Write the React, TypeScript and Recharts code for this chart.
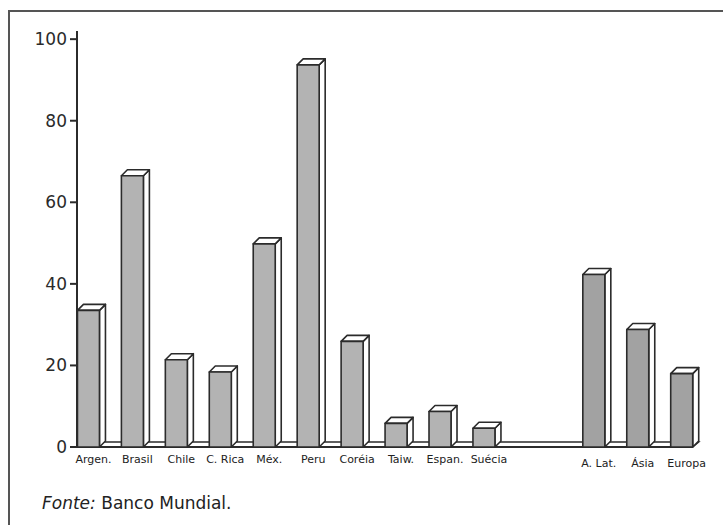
import { BarChart, Bar, XAxis, YAxis, ReferenceArea } from "recharts";

const countries = ["Argen.", "Brasil", "Chile", "C. Rica", "Méx.", "Peru", "Coréia", "Taiw.", "Espan.", "Suécia"];
const countryValues = [33.5, 66.5, 21.4, 18.4, 49.8, 93.7, 25.9, 5.8, 8.7, 4.6];
const regions = ["A. Lat.", "Ásia", "Europa"];
const regionValues = [42.3, 28.8, 18];
const yTicks = [0, 20, 40, 60, 80, 100];

// gap (in bar slots) between the country group and the regional averages
const GROUP_GAP = 1.5;
const DX = 6;
const DY = 6;
const FONT = "'DejaVu Sans', sans-serif";
const INK = "#2b2b2b";

type Row = { pos: number; name: string; value: number; region: boolean };

const rows: Row[] = [
  ...countries.map((name, i) => ({ pos: i, name, value: countryValues[i], region: false })),
  ...regions.map((name, j) => ({
    pos: countries.length + GROUP_GAP + j,
    name,
    value: regionValues[j],
    region: true,
  })),
];

const lastPos = rows[rows.length - 1].pos;

function Box3D(props: any) {
  const { x, y, width, height, payload } = props;
  const fill = payload.region ? "#a2a2a2" : "#b3b3b3";
  const top = `${x},${y} ${x + DX},${y - DY} ${x + width + DX},${y - DY} ${x + width},${y}`;
  const side = `${x + width},${y} ${x + width + DX},${y - DY} ${x + width + DX},${y + height - DY} ${x + width},${y + height}`;
  return (
    <g stroke={INK} strokeWidth={1.6} strokeLinejoin="round">
      <polygon points={side} fill="#fff" />
      <polygon points={top} fill="#fff" />
      <rect x={x} y={y} width={width} height={height} fill={fill} />
    </g>
  );
}

function Floor(props: any) {
  const { x, y, width, height } = props;
  const base = y + height;
  const pts = `${x},${base} ${x + DX},${base - DY + 1} ${x + width + DX},${base - DY + 1} ${x + width},${base}`;
  return (
    <g>
      <polygon points={pts} fill="#fff" stroke={INK} strokeWidth={1.5} />
      <line x1={x} y1={base} x2={x + width} y2={base} stroke={INK} strokeWidth={2} />
    </g>
  );
}

function XTick(props: any) {
  const { x, y, payload } = props;
  const row = rows.find((r) => r.pos === payload.value);
  if (!row) return null;
  return (
    <text
      x={x + 5}
      y={y + (row.region ? 4 : 0)}
      dy="0.71em"
      textAnchor="middle"
      fontFamily={FONT}
      fontSize={11}
      fill="#222"
    >
      {row.name}
    </text>
  );
}

export default function App() {
  return (
    <div style={{ position: "absolute", left: 0, top: 0, width: 723, height: 525, background: "#fff" }}>
      <div
        style={{
          position: "absolute",
          left: 8,
          top: 10,
          width: 715,
          height: 515,
          borderTop: "2px solid #555",
          borderLeft: "2px solid #555",
        }}
      />
      <div style={{ position: "absolute", left: 0, top: 0 }}>
        <BarChart
          width={723}
          height={525}
          data={rows}
          margin={{ top: 31, right: 11, bottom: 0, left: 17 }}
        >
          <XAxis
            type="number"
            dataKey="pos"
            domain={[-0.26, 14.19]}
            ticks={rows.map((r) => r.pos)}
            interval={0}
            height={78}
            tickLine={false}
            axisLine={false}
            tickSize={0}
            tickMargin={8}
            tick={<XTick />}
          />
          <YAxis
            domain={[0, 102]}
            ticks={yTicks}
            interval={0}
            width={60}
            tickSize={7}
            tickMargin={3}
            axisLine={{ stroke: INK, strokeWidth: 2 }}
            tickLine={{ stroke: INK, strokeWidth: 2 }}
            tick={{ fontFamily: FONT, fontSize: 17, fill: "#2a2a2a" }}
          />
          <ReferenceArea
            x1={-0.26}
            x2={lastPos + 0.25}
            y1={0}
            y2={1}
            fill="none"
            stroke="none"
            shape={<Floor />}
          />
          <Bar dataKey="value" barSize={22} shape={<Box3D />} isAnimationActive={false} />
        </BarChart>
      </div>
      <div
        style={{
          position: "absolute",
          left: 42,
          top: 495,
          fontFamily: FONT,
          fontSize: 17,
          lineHeight: "17px",
          color: "#222",
          whiteSpace: "nowrap",
        }}
      >
        <i>Fonte:</i> Banco Mundial.
      </div>
    </div>
  );
}
